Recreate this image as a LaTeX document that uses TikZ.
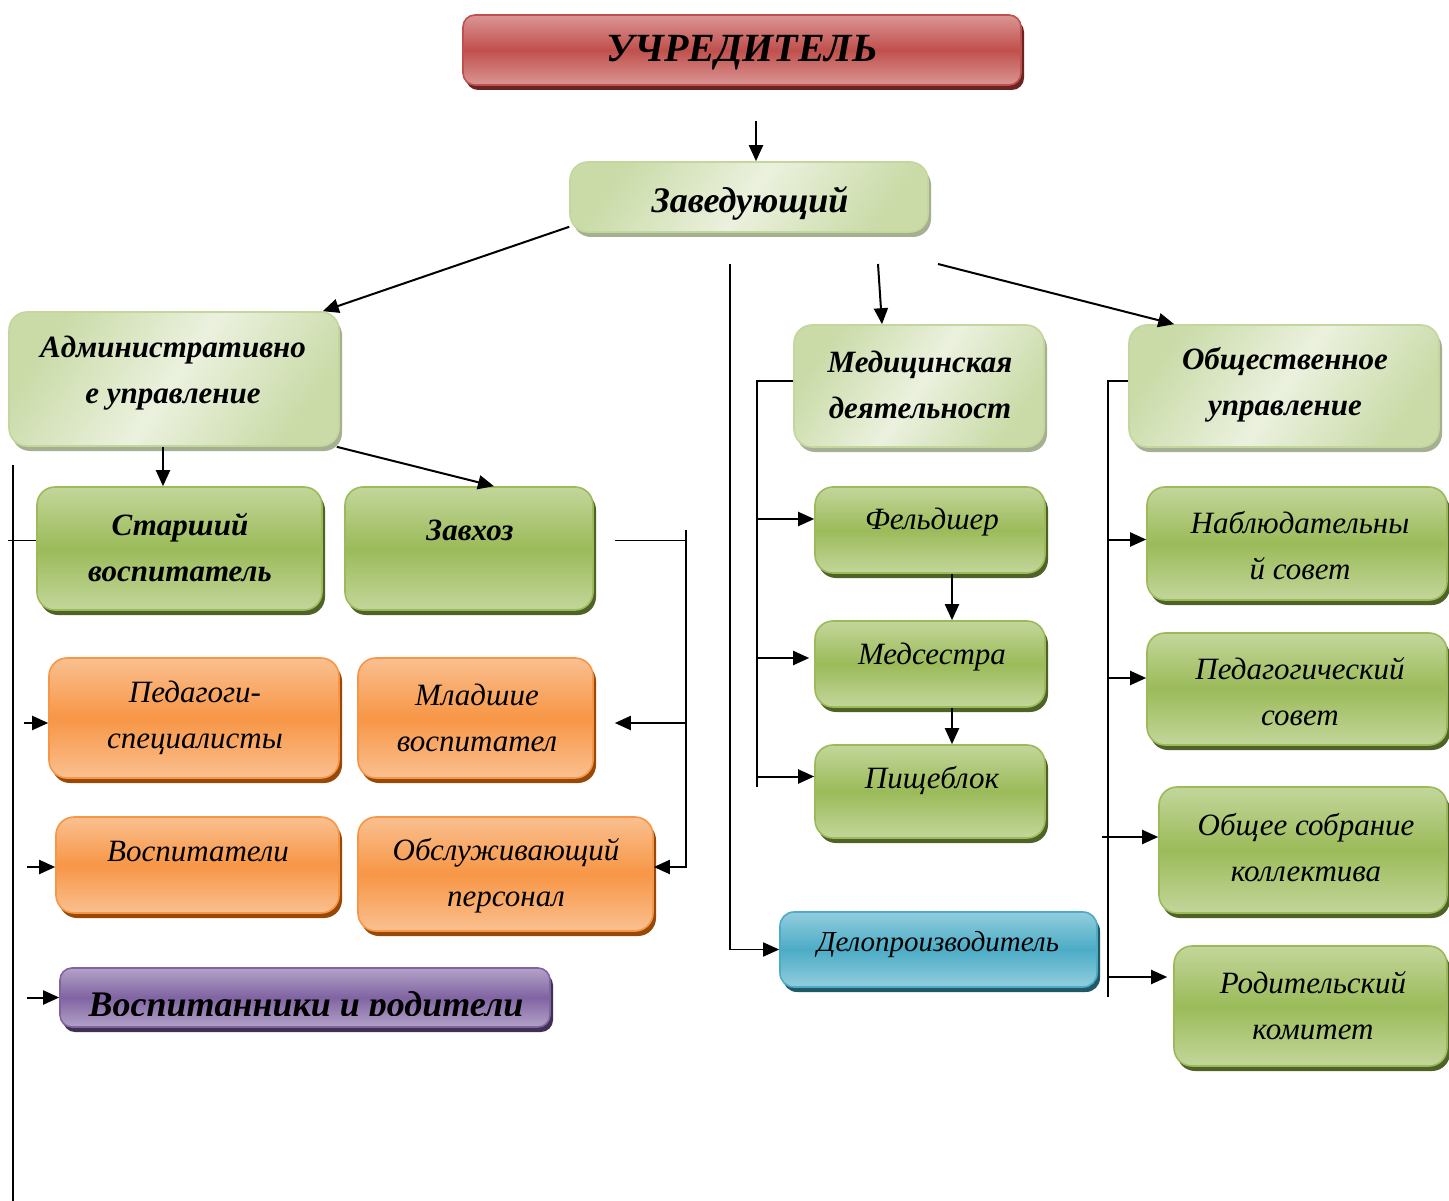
\documentclass[tikz,border=0pt]{standalone}
\usepackage{fontspec}
\setmainfont{Liberation Serif}
\usetikzlibrary{arrows.meta,shadows}
\definecolor{gD}{HTML}{9BBB59}
\definecolor{gT}{HTML}{C3D69B}
\definecolor{gS}{HTML}{4F6228}
\definecolor{lA}{HTML}{EBF1DE}
\definecolor{lB}{HTML}{CADBA8}
\definecolor{lE}{HTML}{C3D69B}
\definecolor{lS}{HTML}{A5AF91}
\definecolor{rD}{HTML}{C0504D}
\definecolor{rT}{HTML}{DA9694}
\definecolor{rS}{HTML}{6B2421}
\definecolor{oD}{HTML}{F79646}
\definecolor{oT}{HTML}{FAC090}
\definecolor{oS}{HTML}{984807}
\definecolor{pD}{HTML}{8064A2}
\definecolor{pT}{HTML}{B3A2C7}
\definecolor{pS}{HTML}{3F3151}
\definecolor{bD}{HTML}{4BACC6}
\definecolor{bT}{HTML}{93CDDD}
\definecolor{bS}{HTML}{215968}
\tikzset{
  basebox/.style={rounded corners=18pt, line width=1.6pt, inner sep=0pt},
  gbox/.style={basebox, draw=gD, top color=gT, bottom color=gT, middle color=gD,
    drop shadow={shadow xshift=3pt, shadow yshift=-5pt, fill=gS, opacity=1}},
  lbox/.style={basebox, draw=lE, top color=lB, bottom color=lB, middle color=lA, shading angle=55,
    drop shadow={shadow xshift=3pt, shadow yshift=-5pt, fill=lS, opacity=1}},
  rbox/.style={basebox, rounded corners=12pt, draw=rD, top color=rT, bottom color=rT, middle color=rD,
    drop shadow={shadow xshift=3pt, shadow yshift=-5pt, fill=rS, opacity=1}},
  obox/.style={basebox, draw=oD, top color=oT, bottom color=oT, middle color=oD,
    drop shadow={shadow xshift=3pt, shadow yshift=-5pt, fill=oS, opacity=1}},
  pbox/.style={basebox, rounded corners=12pt, draw=pD, top color=pT, bottom color=pT, middle color=pD,
    drop shadow={shadow xshift=3pt, shadow yshift=-5pt, fill=pS, opacity=1}},
  bbox/.style={basebox, rounded corners=14pt, draw=bD, top color=bT, bottom color=bT, middle color=bD,
    drop shadow={shadow xshift=3pt, shadow yshift=-5pt, fill=bS, opacity=1}},
  txt/.style={align=center, inner sep=0pt, font=\fontsize{31}{46}\selectfont\itshape},
  btxt/.style={align=center, inner sep=0pt, font=\fontsize{31}{46}\selectfont\bfseries\itshape},
  tip/.tip={Triangle[length=16pt,width=14pt]},
  arr/.style={-tip, line width=2pt},
  rarr/.style={tip-, line width=2pt},
  ln/.style={line width=1.6pt}
}
\begin{document}
\begin{tikzpicture}[x=1pt,y=-1pt]
\useasboundingbox (0,0) rectangle (1449,1201);

% boxes
\node[rbox, minimum width=558, minimum height=70] (uch) at (742,50) {};
\node[lbox, minimum width=358, minimum height=70] (zav) at (749,197) {};
\node[lbox, minimum width=330, minimum height=134] (adm) at (174,379) {};
\node[gbox, minimum width=285, minimum height=123] (st) at (179.5,548.5) {};
\node[gbox, minimum width=248, minimum height=123] (zx) at (469,548.5) {};
\node[obox, minimum width=290, minimum height=120] (ped) at (194,718) {};
\node[obox, minimum width=235, minimum height=120] (mlad) at (475.5,718) {};
\node[obox, minimum width=283, minimum height=96] (vos) at (197.5,865) {};
\node[obox, minimum width=295, minimum height=114] (obsl) at (505.5,874) {};
\node[pbox, minimum width=490, minimum height=59] (pur) at (305,997.5) {};
\node[lbox, minimum width=250, minimum height=122] (med) at (919,386) {};
\node[lbox, minimum width=310, minimum height=122] (obs) at (1284,386) {};
\node[gbox, minimum width=230, minimum height=86] (fel) at (930,530) {};
\node[gbox, minimum width=230, minimum height=86] (meds) at (930,664) {};
\node[gbox, minimum width=230, minimum height=93] (pish) at (930,791.5) {};
\node[bbox, minimum width=317, minimum height=75] (del) at (938.5,949.5) {};
\node[gbox, minimum width=300, minimum height=113] (nab) at (1297,543.5) {};
\node[gbox, minimum width=300, minimum height=112] (ps) at (1297,689) {};
\node[gbox, minimum width=288, minimum height=126] (os) at (1303,850) {};
\node[gbox, minimum width=273, minimum height=120] (rk) at (1310.5,1006) {};

% texts
\node[btxt, font=\fontsize{40}{46}\selectfont\bfseries\itshape] (uchT) at (742,53) {УЧРЕДИТЕЛЬ};
\node[btxt, font=\fontsize{36}{46}\selectfont\bfseries\itshape] (zavT) at (750,203) {Заведующий};
\node[btxt] (admT) at (173,373) {Административно\\е управление};
\node[btxt] (stT) at (180,548) {Старший\\воспитатель};
\node[btxt] (zxT) at (470,530) {Завхоз};
\node[txt] (pedT) at (195,718) {Педагоги-\\специалисты};
\node[txt] (mladT) at (477,718) {Младшие\\воспитател};
\node[txt] (vosT) at (198,852) {Воспитатели};
\node[txt] (obslT) at (506,876) {Обслуживающий\\персонал};
\begin{scope}
\clip (60,960) rectangle (550,1015);
\node[btxt, font=\fontsize{36}{46}\selectfont\bfseries\itshape, anchor=base] (purT) at (306,1016) {Воспитанники и родители};
\end{scope}
\node[btxt] (medT) at (920,385) {Медицинская\\деятельност};
\node[btxt] (obsT) at (1285,385) {Общественное\\управление};
\node[txt] (felT) at (932,522) {Фельдшер};
\node[txt] (medsT) at (932,657) {Медсестра};
\node[txt] (pishT) at (932,780) {Пищеблок};
\node[txt, font=\fontsize{29}{46}\selectfont\itshape] (delT) at (938,945) {Делопроизводитель};
\node[txt] (nabT) at (1300,546) {Наблюдательны\\й совет};
\node[txt] (psT) at (1300,692) {Педагогический\\совет};
\node[txt] (osT) at (1306,848) {Общее собрание\\коллектива};
\node[txt] (rkT) at (1313,1006) {Родительский\\комитет};

% free ends
\coordinate (u0) at (756,121);
\coordinate (v0) at (730,264);
\coordinate (m0) at (878,264);
\coordinate (o0) at (938,264);
\coordinate (L0) at (13,465);
\coordinate (L1) at (13,1201);
\coordinate (R0) at (686,530);
\coordinate (R1) at (686,867);
\coordinate (M0) at (757,381);
\coordinate (M1) at (757,787);
\coordinate (P0) at (1108,381);
\coordinate (P1) at (1108,997);

% connectors
\draw[arr] (u0) -- (u0 |- zav.north);
\draw[arr] ([yshift=6]zav.south west) -- ([xshift=-17]adm.north east);
\draw[ln,-tip] (v0) |- (del.west);
\draw[arr] (m0) -- ([xshift=-37]med.north);
\draw[arr] (o0) -- ([xshift=46]obs.north west);
\draw[arr] ([xshift=-11]adm.south) -- ([xshift=-11]adm.south |- st.north);
\draw[arr] ([xshift=-3]adm.south east) -- ([xshift=25]zx.north);

\draw[ln] (L0) -- (L1);
\draw[ln] ([yshift=8]st.west) -- ++(-28,0);
\draw[rarr] ([yshift=-5]ped.west) -- ++(-24,0);
\draw[rarr] ([yshift=-2]vos.west) -- ++(-28,0);
\draw[rarr] (pur.west) -- ++(-32,0);

\draw[ln] ([xshift=21,yshift=8]zx.east) -- ++(72,0);
\draw[ln] (R0) -- (R1);
\draw[rarr] ([xshift=21,yshift=-5]mlad.east) -- ++(72,0);
\draw[rarr] ([yshift=7]obsl.east) -- ++(33,0);

\draw[ln] ([yshift=5]med.west) -- ++(-37,0);
\draw[ln] (M0) -- (M1);
\draw[rarr] ([yshift=11]fel.west) -- ++(-58,0);
\draw[rarr] ([xshift=-5,yshift=6]meds.west) -- ++(-53,0);
\draw[rarr] ([yshift=15]pish.west) -- ++(-58,0);
\draw[arr] ([xshift=22]fel.south) -- ([xshift=22]meds.north);
\draw[arr] ([xshift=22]meds.south) -- ([xshift=22]pish.north);

\draw[ln] ([yshift=5]obs.west) -- ++(-21,0);
\draw[ln] (P0) -- (P1);
\draw[rarr] ([yshift=4]nab.west) -- ++(-39,0);
\draw[rarr] ([yshift=11]ps.west) -- ++(-39,0);
\draw[rarr] ([yshift=13]os.west) -- ++(-56,0);
\draw[rarr] ([xshift=-6,yshift=29]rk.west) -- ++(-60,0);
\end{tikzpicture}
\end{document}
